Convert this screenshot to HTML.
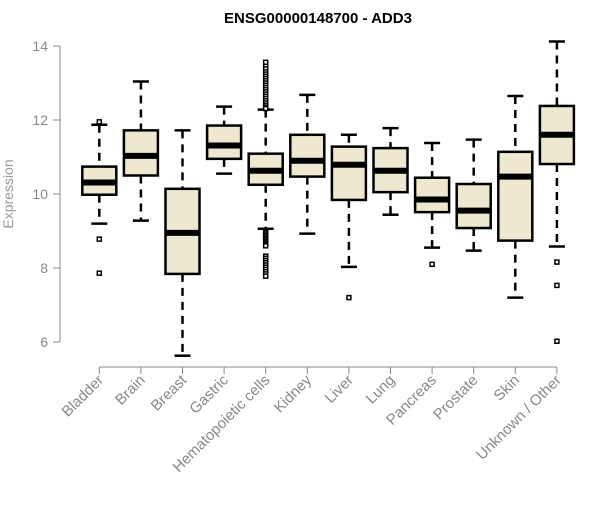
<!DOCTYPE html>
<html><head><meta charset="utf-8"><style>
body{margin:0;background:#fff;}
svg text{font-family:"Liberation Sans",Arial,sans-serif;}
</style></head><body>
<svg id="chart" width="600" height="500">
<text x="318" y="23" text-anchor="middle" font-weight="bold" font-size="15">ENSG00000148700 - ADD3</text>
<text transform="translate(13,194) rotate(-90)" text-anchor="middle" font-size="14" fill="#999">Expression</text>
<g id="yaxis"></g>
<g id="xaxis"></g>
<g id="boxes"></g>
</svg>
<script>
const categories=["Bladder","Brain","Breast","Gastric","Hematopoietic cells","Kidney","Liver","Lung","Pancreas","Prostate","Skin","Unknown / Other"];
const lowWhisker=[9.20,9.28,5.63,10.55,9.06,8.93,8.03,9.44,8.55,8.47,7.20,8.58];
const q1=[9.98,10.50,7.84,10.95,10.25,10.47,9.84,10.05,9.51,9.08,8.74,10.81];
const medians=[10.31,11.03,8.95,11.31,10.63,10.90,10.79,10.63,9.85,9.55,10.47,11.60];
const q3=[10.74,11.72,10.14,11.85,11.09,11.60,11.28,11.24,10.44,10.27,11.14,12.38];
const highWhisker=[11.87,13.04,11.72,12.36,12.28,12.68,11.60,11.78,11.38,11.47,12.65,14.12];
const outliers=[[8.78,7.86,11.95],[],[],[],[13.56,13.45,13.38,13.3,13.24,13.18,13.12,13.06,13.0,12.94,12.88,12.82,12.76,12.7,12.64,12.58,12.52,12.46,12.4,12.35,12.31,9.0,8.96,8.92,8.88,8.84,8.8,8.76,8.72,8.68,8.64,8.6,8.32,8.26,8.2,8.14,8.08,8.02,7.96,7.9,7.84,7.78],[],[7.2],[],[8.1],[],[],[8.16,7.53,6.02]];
const yTicks=[6,8,10,12,14];
const NS="http://www.w3.org/2000/svg";
const yScale=v=>46+(14-v)*37;
const xScale=i=>99.3+41.6*i;
function mk(tag,attrs,parent){const e=document.createElementNS(NS,tag);for(const k in attrs)e.setAttribute(k,attrs[k]);parent.appendChild(e);return e;}
const ya=document.getElementById('yaxis'),xa=document.getElementById('xaxis'),bx=document.getElementById('boxes');
mk('line',{x1:60,x2:60,y1:yScale(14),y2:yScale(6),stroke:'#888'},ya);
yTicks.forEach(t=>{
 const l=mk('line',{x1:53,x2:60,y1:yScale(t),y2:yScale(t),stroke:'#888'},ya);
 
 
 const tx=mk('text',{x:48,y:yScale(t)+5,'text-anchor':'end','font-size':14,fill:'#888'},ya);
 tx.textContent=t;
 
 
});
mk('line',{x1:xScale(0),x2:xScale(categories.length-1),y1:367,y2:367,stroke:'#888'},xa);
categories.forEach((c,i)=>{
 const x=xScale(i);
 const l=mk('line',{x1:x,x2:x,y1:367,y2:374,stroke:'#888'},xa);
 
 
 const tx=mk('text',{transform:`translate(${x+5},${381}) rotate(-45)`,'text-anchor':'end','font-size':15,fill:'#888'},xa);
 tx.textContent=c;
 
 
 const g=mk('g',{},bx);
 
 
 const hw=17;
 mk('line',{x1:x,x2:x,y1:yScale(highWhisker[i]),y2:yScale(q3[i]),stroke:'#000','stroke-width':2.5,'stroke-dasharray':'8,6'},g);
 mk('line',{x1:x,x2:x,y1:yScale(q1[i]),y2:yScale(lowWhisker[i]),stroke:'#000','stroke-width':2.5,'stroke-dasharray':'8,6'},g);
 mk('line',{x1:x-8,x2:x+8,y1:yScale(highWhisker[i]),y2:yScale(highWhisker[i]),stroke:'#000','stroke-width':2.5},g);
 mk('line',{x1:x-8,x2:x+8,y1:yScale(lowWhisker[i]),y2:yScale(lowWhisker[i]),stroke:'#000','stroke-width':2.5},g);
 mk('rect',{x:x-hw,y:yScale(q3[i]),width:2*hw,height:yScale(q1[i])-yScale(q3[i]),fill:'#EDE8CF',stroke:'#000','stroke-width':2.5},g);
 mk('line',{x1:x-hw,x2:x+hw,y1:yScale(medians[i]),y2:yScale(medians[i]),stroke:'#000','stroke-width':6},g);
 outliers[i].forEach(v=>{
  const o=mk('rect',{x:x-2,y:yScale(v)-2,width:4,height:4,fill:'#fff',stroke:'#000','stroke-width':1.5},g);
  
  
 });
});
</script>
</body></html>
